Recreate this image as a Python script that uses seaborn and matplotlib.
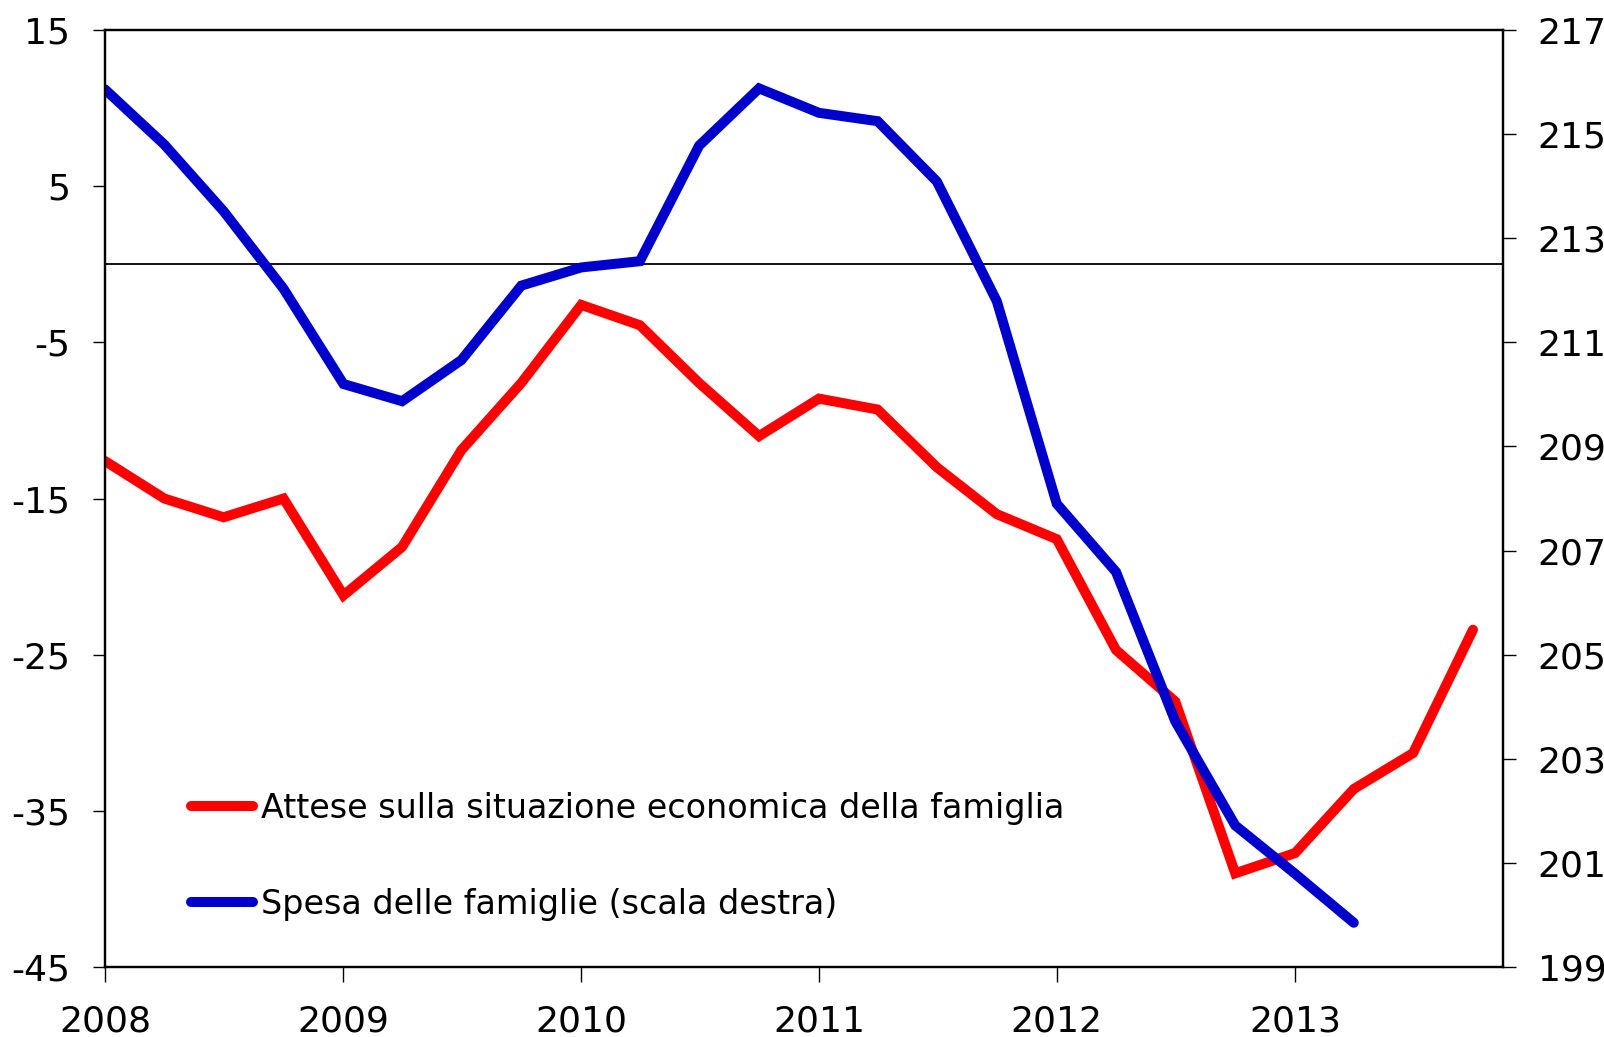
import numpy as np
import pandas as pd
import matplotlib
matplotlib.use('Agg')
import matplotlib.pyplot as plt
import seaborn as sns

# quarterly data 2008Q1 onward
quarters = pd.date_range('2008-01-01', periods=24, freq='QS')

attese = [-12.6, -15.0, -16.2, -15.0, -21.2, -18.1, -11.9, -7.6,
          -2.6, -3.9, -7.6, -11.0, -8.6, -9.3, -13.0, -16.0,
          -17.6, -24.7, -28.0, -39.0, -37.7, -33.6, -31.3, -23.4]

spesa = [215.86, 214.80, 213.52, 212.03, 210.20, 209.87, 210.66, 212.09,
         212.44, 212.56, 214.78, 215.88, 215.41, 215.25, 214.09, 211.79,
         207.90, 206.59, 203.72, 201.72, 200.79, 199.85]

label_red = 'Attese sulla situazione economica della famiglia'
label_blue = 'Spesa delle famiglie (scala destra)'

left_ticks = [15, 5, -5, -15, -25, -35, -45]
right_ticks = [217, 215, 213, 211, 209, 207, 205, 203, 201, 199]
year_ticks = ['2008', '2009', '2010', '2011', '2012', '2013']

df_red = pd.DataFrame({'date': quarters, 'value': attese})
df_blue = pd.DataFrame({'date': quarters[:len(spesa)], 'value': spesa})

sns.set_style('white')
plt.rcParams['font.family'] = ['DejaVu Sans']
plt.rcParams['axes.unicode_minus'] = False
plt.rcParams['text.color'] = 'black'

fig = plt.figure(figsize=(16.04, 10.37), dpi=100)
ax = fig.add_axes([0.0655, 0.0675, 0.8715, 0.9035])
ax2 = ax.twinx()

sns.lineplot(data=df_red, x='date', y='value', ax=ax, color='#ff0000',
             linewidth=7.2, solid_capstyle='round', solid_joinstyle='miter',
             label=label_red, legend=False)
sns.lineplot(data=df_blue, x='date', y='value', ax=ax2, color='#0000cc',
             linewidth=7.2, solid_capstyle='round', solid_joinstyle='miter',
             label=label_blue, legend=False)

ax.axhline(0, color='black', linewidth=1.3, zorder=1)

ax.set_ylim(-45, 15)
ax2.set_ylim(199, 217)
ax.set_yticks(left_ticks)
ax2.set_yticks(right_ticks)
ax.set_xlim(pd.Timestamp('2008-01-01'), pd.Timestamp('2013-11-16'))
ax.set_xticks([pd.Timestamp(y + '-01-01') for y in year_ticks])
ax.set_xticklabels(year_ticks)

for a in (ax, ax2):
    a.set_xlabel('')
    a.set_ylabel('')
    for s in a.spines.values():
        s.set_linewidth(1.6)
        s.set_color('black')
    a.grid(False)

ax.tick_params(axis='y', direction='out', length=9, width=1, pad=16,
               labelsize=26, colors='black', left=True)
ax.tick_params(axis='x', direction='out', length=11, width=1, pad=16,
               labelsize=26, colors='black', bottom=True)
ax2.tick_params(axis='y', direction='out', length=9, width=1, pad=16,
                labelsize=26, colors='black', right=True)

h1, l1 = ax.get_legend_handles_labels()
h2, l2 = ax2.get_legend_handles_labels()
leg = ax2.legend(h1 + h2, l1 + l2, loc='lower left', bbox_to_anchor=(0.04, 0.017),
                 frameon=False, fontsize=24, handlelength=1.85, handletextpad=0.25,
                 labelspacing=1.9)

plt.savefig('out.png', dpi=100)
plt.close()
